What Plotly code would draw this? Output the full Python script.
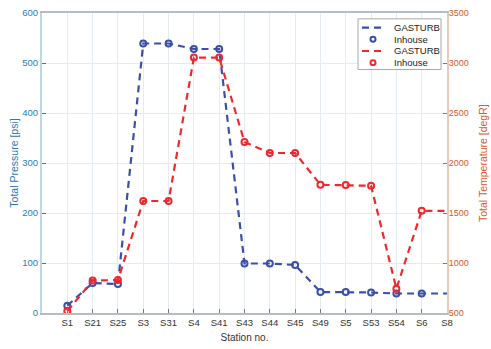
import plotly.graph_objects as go

stations = ["S1", "S21", "S25", "S3", "S31", "S4", "S41", "S43", "S44", "S45",
            "S49", "S5", "S53", "S54", "S6", "S8"]

p_gasturb = [14.7, 60, 58, 539, 539, 528, 528, 99, 99, 96, 42, 42, 41, 39, 39, 39]
p_inhouse = [14.7, 60, 58, 539, 539, 528, 528, 99, 99, 96, 42, 42, 41, 39, 39]

t_gasturb = [519, 824, 830, 1620, 1620, 3054, 3054, 2211, 2100, 2100, 1782, 1780, 1772, 743, 1522, 1522]
t_inhouse = [519, 824, 830, 1620, 1620, 3054, 3054, 2211, 2100, 2100, 1782, 1780, 1772, 743, 1522]

legend_labels = ["GASTURB", "Inhouse", "GASTURB", "Inhouse"]

BLUE = "#3b4fa8"
RED = "#f0282d"
AX_BLUE = "#2a7ab8"
AX_ORANGE = "#d9572a"
FONT = "Liberation Sans, Arial, sans-serif"
DASH = "7px,5px"

fig = go.Figure()
fig.add_trace(go.Scatter(x=stations, y=p_gasturb, mode="lines", name=legend_labels[0],
                         line=dict(color=BLUE, width=2.2, dash=DASH)))
fig.add_trace(go.Scatter(x=stations[:len(p_inhouse)], y=p_inhouse, mode="markers", name=legend_labels[1],
                         marker=dict(symbol="circle-open", size=6, color=BLUE,
                                     line=dict(width=2, color=BLUE))))
fig.add_trace(go.Scatter(x=stations, y=t_gasturb, mode="lines", name=legend_labels[2], yaxis="y2",
                         line=dict(color=RED, width=2.2, dash=DASH)))
fig.add_trace(go.Scatter(x=stations[:len(t_inhouse)], y=t_inhouse, mode="markers", name=legend_labels[3],
                         yaxis="y2",
                         marker=dict(symbol="circle-open", size=6, color=RED,
                                     line=dict(width=2, color=RED))))

# compact legend box (MATLAB style), drawn in pixel-derived paper coordinates
W, H = 491, 349
ML, MR, MT, MB = 42, 44, 7, 34
PW, PH = W - ML - MR, H - MT - MB

def px(xp):
    return (xp - ML) / PW

def py(yp):
    return (H - MB - yp) / PH

shapes = [dict(type="rect", xref="paper", yref="paper",
               x0=px(358), x1=px(441), y0=py(65), y1=py(13),
               fillcolor="white", line=dict(color="#a8a8a8", width=1), layer="above")]
annotations = []
legend_styles = [("line", BLUE), ("marker", BLUE), ("line", RED), ("marker", RED)]
rows = [22, 34, 46, 58]
for (kind, col), ry, lab in zip(legend_styles, rows, legend_labels):
    if kind == "line":
        shapes.append(dict(type="line", xref="paper", yref="paper",
                           x0=px(362), x1=px(384), y0=py(ry), y1=py(ry),
                           line=dict(color=col, width=2.2, dash=DASH), layer="above"))
    else:
        shapes.append(dict(type="circle", xref="paper", yref="paper",
                           x0=px(370.5), x1=px(375.5), y0=py(ry + 2.5), y1=py(ry - 2.5),
                           line=dict(color=col, width=2), fillcolor="white", layer="above"))
    annotations.append(dict(xref="paper", yref="paper", x=px(392), y=py(ry),
                            xanchor="left", yanchor="middle", showarrow=False,
                            text=lab, font=dict(size=9.5, color="#222222", family=FONT)))

# right axis title placed close to tick labels
annotations.append(dict(xref="paper", yref="paper", x=px(483), y=0.5, textangle=-90,
                        xanchor="center", yanchor="middle", showarrow=False,
                        text="Total Temperature [degR]",
                        font=dict(size=10.5, color=AX_ORANGE, family=FONT)))

fig.update_layout(
    width=W, height=H,
    margin=dict(l=ML, r=MR, t=MT, b=MB),
    paper_bgcolor="white", plot_bgcolor="white",
    font=dict(family=FONT, size=10, color="#333333"),
    showlegend=False,
    shapes=shapes, annotations=annotations,
    xaxis=dict(type="category", range=[-1, 15],
               showgrid=True, gridcolor="#e4ebf1", gridwidth=1,
               showline=True, linecolor="#b5bcc2", linewidth=2, mirror=True,
               ticks="inside", ticklen=4, tickcolor="#777777",
               tickfont=dict(size=9.5, color="#333333"),
               ticklabelstandoff=0,
               title=dict(text="Station no.", font=dict(size=10, color="#333333"), standoff=7),
               zeroline=False),
    yaxis=dict(range=[0, 600], dtick=100,
               showgrid=True, gridcolor="#e4ebf1", gridwidth=1,
               showline=True, linecolor="#bcd6ea", linewidth=2,
               ticks="inside", ticklen=4, tickcolor=AX_BLUE,
               tickfont=dict(size=9.5, color=AX_BLUE),
               title=dict(text="Total Pressure [psi]", font=dict(size=10.5, color=AX_BLUE), standoff=2),
               zeroline=False),
    yaxis2=dict(range=[500, 3500], dtick=500, overlaying="y", side="right",
                showgrid=False,
                showline=True, linecolor="#ebc9ba", linewidth=2,
                ticks="inside", ticklen=4, tickcolor=AX_ORANGE,
                tickfont=dict(size=9, color=AX_ORANGE),
                ticklabelstandoff=-2,
                zeroline=False),
)

fig.write_html("out.html", config={"displayModeBar": False},
               post_script="document.body.style.margin='0px';")
